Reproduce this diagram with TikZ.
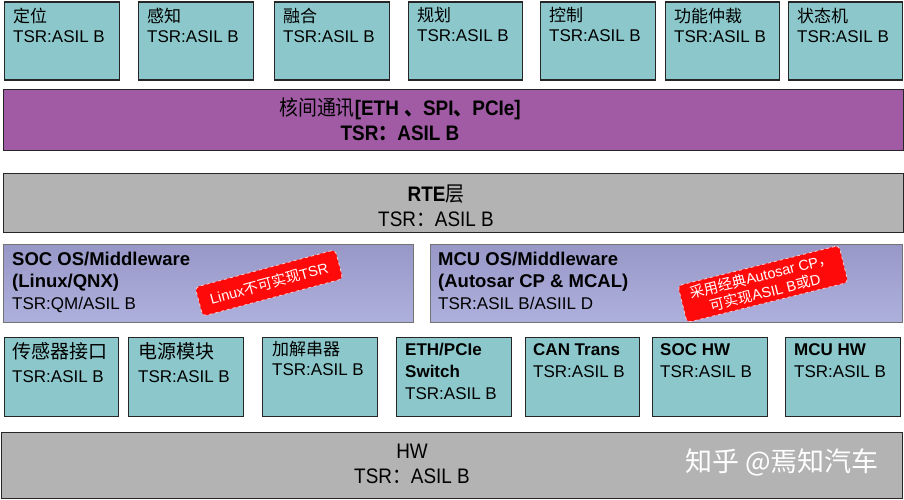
\documentclass[tikz,border=0pt]{standalone}
\usepackage{fontspec}
\setmainfont{Liberation Sans}
\newfontfamily\cjk{Noto Sans CJK SC}
\newfontfamily\narrowfont[FakeStretch=0.9]{Liberation Sans}
\newfontfamily\cjknarrow[FakeStretch=0.9]{Noto Sans CJK SC}
\usepackage{tikz}
\usetikzlibrary{positioning}

\definecolor{tealbox}{HTML}{8CC8CB}
\definecolor{ipcpurple}{HTML}{A15BA5}
\definecolor{layergray}{HTML}{B3B3B3}
\definecolor{ostop}{HTML}{9898C8}
\definecolor{osbottom}{HTML}{AEB0DC}
\definecolor{notered}{HTML}{FF0A0A}

\begin{document}
\begin{tikzpicture}
  [x=1pt, y=-1pt,
    module/.style ={
        rectangle,
        draw=black!85,
        fill=tealbox,
        line width=1.2pt,
        anchor=north west,
        inner sep=0pt,
        minimum height=78pt,
      },
    layer/.style ={
        rectangle,
        draw=black!85,
        line width=1.2pt,
        anchor=north west,
        inner sep=0pt,
        minimum width=900pt,
      },
    osbox/.style ={
        rectangle,
        draw=black!55,
        line width=1pt,
        top color=ostop, bottom color=osbottom,
        anchor=north west,
        inner sep=0pt,
        minimum height=78pt,
      },
    modtext/.style ={
        align=left,
        inner sep=0pt,
        font=\fontsize{17}{20}\selectfont,
      },
    note/.style ={
        rectangle,
        rounded corners=4pt,
        fill=notered,
        draw=white!80!red,
        dashed,
        line width=0.8pt,
        text=white,
        align=center,
        font=\fontsize{14.5}{17}\selectfont,
      },
  ]
  \useasboundingbox (0,0) rectangle (904,500);

  % application modules
  \node[module, minimum width=115pt] (dingwei) at (4,1.5) {};
  \node[module, minimum width=115pt] (ganzhi) at (138,1.5) {};
  \node[module, minimum width=115pt] (ronghe) at (274,1.5) {};
  \node[module, minimum width=114pt] (guihua) at (408,1.5) {};
  \node[module, minimum width=115pt] (kongzhi) at (540,1.5) {};
  \node[module, minimum width=114pt] (zhongcai) at (665,1.5) {};
  \node[module, minimum width=114pt] (zhuangtai) at (788,1.5) {};

  \node[modtext, below right=6pt and 9pt of dingwei.north west] (dingweitext) {{\cjk 定位}\\TSR:ASIL B};
  \node[modtext, below right=6pt and 9pt of ganzhi.north west] (ganzhitext) {{\cjk 感知}\\TSR:ASIL B};
  \node[modtext, below right=6pt and 9pt of ronghe.north west] (ronghetext) {{\cjk 融合}\\TSR:ASIL B};
  \node[modtext, below right=6pt and 9pt of guihua.north west] (guihuatext) {{\cjk 规划}\\TSR:ASIL B};
  \node[modtext, below right=6pt and 9pt of kongzhi.north west] (kongzhitext) {{\cjk 控制}\\TSR:ASIL B};
  \node[modtext, below right=6pt and 9pt of zhongcai.north west] (zhongcaitext) {{\cjk 功能仲裁}\\TSR:ASIL B};
  \node[modtext, below right=6pt and 9pt of zhuangtai.north west] (zhuangtaitext) {{\cjk 状态机}\\TSR:ASIL B};

  % layers
  \node[layer, fill=ipcpurple, minimum height=61pt] (ipc) at (3,89) {};
  \node[align=center, inner sep=0pt, font=\fontsize{21}{25}\selectfont] (ipctext) at (400,119)
    {{\cjknarrow 核间通讯}{\narrowfont\bfseries[ETH {\cjknarrow 、}SPI{\cjknarrow 、}PCIe]}\\
     {\narrowfont\bfseries TSR{\cjknarrow ：}ASIL B}};

  \node[layer, fill=layergray, minimum height=59pt] (rte) at (3,173) {};
  \node[align=center, inner sep=0pt, font=\fontsize{21}{25}\selectfont] (rtetext) at (436,206)
    {{\narrowfont\bfseries RTE}{\cjknarrow 层}\\
     {\narrowfont TSR{\cjknarrow ：}ASIL B}};

  \node[osbox, minimum width=410pt] (socos) at (3,244) {};
  \node[osbox, minimum width=472pt] (mcuos) at (430,244) {};
  \node[modtext, below right=8pt and 9pt of socos.north west, font=\fontsize{17}{22}\selectfont] (socostext)
    {{\fontsize{18.5}{22}\selectfont\bfseries SOC OS/Middleware}\\
     {\fontsize{18.5}{22}\selectfont\bfseries (Linux/QNX)}\\
     TSR:QM/ASIL B};
  \node[modtext, below right=8pt and 8pt of mcuos.north west, font=\fontsize{17}{22}\selectfont] (mcuostext)
    {{\fontsize{18.5}{22}\selectfont\bfseries MCU OS/Middleware}\\
     {\fontsize{18.5}{22}\selectfont\bfseries (Autosar CP \& MCAL)}\\
     TSR:ASIL B/ASIIL D};

  \node[note, rotate=15, minimum width=145pt, minimum height=30pt] (linuxnote) at (269,283)
    {Linux{\cjk 不可实现}TSR};
  \node[note, rotate=14, minimum width=166pt, minimum height=38pt] (autosarnote) at (763,284)
    {{\cjk 采用经典}Autosar CP{\cjk ，}\\{\cjk 可实现}ASIL B{\cjk 或}D};

  % hardware modules
  \node[module, minimum width=114pt, minimum height=79pt] (sensorif) at (4,337) {};
  \node[module, minimum width=115pt, minimum height=79pt] (power) at (128,337) {};
  \node[module, minimum width=115pt, minimum height=79pt] (serdes) at (262,337) {};
  \node[module, minimum width=115pt, minimum height=79pt] (ethswitch) at (396,337) {};
  \node[module, minimum width=114pt, minimum height=79pt] (cantrans) at (525,337) {};
  \node[module, minimum width=115pt, minimum height=79pt] (sochw) at (652,337) {};
  \node[module, minimum width=115pt, minimum height=79pt] (mcuhw) at (785,337) {};

  \node[modtext, below right=5pt and 8pt of sensorif.north west, font=\fontsize{17}{24}\selectfont] (sensoriftext)
    {{\fontsize{19}{24}\selectfont\cjk 传感器接口}\\TSR:ASIL B};
  \node[modtext, below right=5pt and 10pt of power.north west, font=\fontsize{17}{24}\selectfont] (powertext)
    {{\fontsize{19}{24}\selectfont\cjk 电源模块}\\TSR:ASIL B};
  \node[modtext, below right=4pt and 10pt of serdes.north west] (serdestext)
    {{\cjk 加解串器}\\TSR:ASIL B};
  \node[modtext, below right=6pt and 9pt of ethswitch.north west, font=\fontsize{17}{22}\selectfont] (ethswitchtext)
    {{\bfseries ETH/PCIe}\\{\bfseries Switch}\\TSR:ASIL B};
  \node[modtext, below right=6pt and 8pt of cantrans.north west, font=\fontsize{17}{22}\selectfont] (cantranstext)
    {{\bfseries CAN Trans}\\TSR:ASIL B};
  \node[modtext, below right=6pt and 8pt of sochw.north west, font=\fontsize{17}{22}\selectfont] (sochwtext)
    {{\bfseries SOC HW}\\TSR:ASIL B};
  \node[modtext, below right=6pt and 9pt of mcuhw.north west, font=\fontsize{17}{22}\selectfont] (mcuhwtext)
    {{\bfseries MCU HW}\\TSR:ASIL B};

  \node[layer, fill=layergray, minimum width=901pt, minimum height=66pt] (hw) at (1,432) {};
  \node[align=center, inner sep=0pt, font=\fontsize{21}{25}\selectfont] (hwtext) at (412,464)
    {{\narrowfont HW}\\
     {\narrowfont TSR{\cjknarrow ：}ASIL B}};
  \node[text=white, inner sep=0pt, font=\cjk\fontsize{27}{29}\selectfont] (watermark) at (782,462)
    {知乎 @焉知汽车};
\end{tikzpicture}
\end{document}
